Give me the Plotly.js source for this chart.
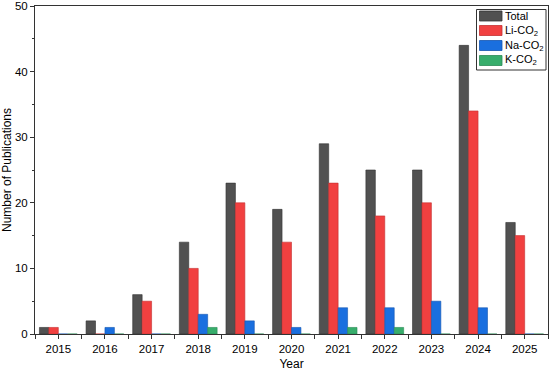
<!DOCTYPE html>
<html><head><meta charset="utf-8">
<script src="https://cdn.plot.ly/plotly-3.0.1.min.js"></script>
<style>html,body{margin:0;padding:0;background:#fff}#chart{width:551px;height:371px}</style>
</head><body><div id="chart"></div>
<script>
const years = [2015,2016,2017,2018,2019,2020,2021,2022,2023,2024,2025];
const total = [1,2,6,14,23,19,29,25,25,44,17];
const liCO2 = [1,0,5,10,20,14,23,18,20,34,15];
const naCO2 = [0,1,0,3,2,1,4,4,5,4,0];
const kCO2  = [0,0,0,1,0,0,1,1,0,0,0];
const seriesNames = ['Total','Li-CO<sub>2</sub>','Na-CO<sub>2</sub>','K-CO<sub>2</sub>'];
const seriesColors = ['#515151','#F14040','#1A6FDF','#37AD6B'];
const seriesLines = ['#333333','#c43030','#1456b0','#2a8a55'];
const seriesData = [total, liCO2, naCO2, kCO2];
const yTicks = [0,10,20,30,40,50];

const traces = seriesData.map((d,i)=>({
  type:'bar', x: years, y: d, name: seriesNames[i],
  marker:{color: seriesColors[i], line:{color: seriesLines[i], width:0.6}},
  hoverinfo:'x+y', showlegend:false
}));

// plot area geometry (pixels)
const W=551, H=371, mL=35, mR=3, mT=6, mB=37;
const pw=W-mL-mR, ph=H-mT-mB;
const px2x = p => (p-mL)/pw;
const py2y = p => (H-mB-p)/ph;

const font = {family:'Liberation Sans, Arial, sans-serif', size:11, color:'#000'};

// custom legend (box, swatches, labels)
const shapes = [{type:'rect', xref:'paper', yref:'paper', x0:px2x(476.5), x1:px2x(546), y0:py2y(70), y1:py2y(9.5),
  line:{color:'#333', width:1}, fillcolor:'#fff', layer:'above'}];
const annotations = [];
const rowCenters = [16, 30.5, 45.5, 60.5];
seriesNames.forEach((n,i)=>{
  const c = rowCenters[i];
  shapes.push({type:'rect', xref:'paper', yref:'paper', x0:px2x(479.5), x1:px2x(502), y0:py2y(c+5), y1:py2y(c-5),
    line:{color: seriesLines[i], width:0.8}, fillcolor: seriesColors[i], layer:'above'});
  annotations.push({xref:'paper', yref:'paper', x:px2x(503.5), y:py2y(c), xanchor:'left', yanchor:'middle',
    text:n, showarrow:false, borderpad:0, font:{family:font.family, size:11, color:'#000'}});
});

const layout = {
  width:W, height:H,
  margin:{l:mL, r:mR, t:mT, b:mB},
  paper_bgcolor:'#fff', plot_bgcolor:'#fff',
  font: font,
  barmode:'group', bargap:0.19, bargroupgap:0,
  showlegend:false,
  shapes: shapes, annotations: annotations,
  xaxis:{
    range:[2014.5, 2025.5], tickmode:'array', tickvals: years, ticktext: years.map(String),
    ticks:'outside', ticklen:4, tickwidth:1, tickcolor:'#333',
    minor:{tickvals: years.slice(0,-1).map(y=>y+0.5).concat([2014.5,2025.5]), ticks:'outside', ticklen:4, tickcolor:'#333'},
    showline:true, linecolor:'#333', linewidth:1, mirror:true, showgrid:false, zeroline:false,
    title:{text:'Year', font:{family:font.family, size:12, color:'#000'}, standoff:6},
    tickfont:{family:font.family, size:11.5, color:'#000'}
  },
  yaxis:{
    range:[0,50], tickmode:'array', tickvals: yTicks, ticktext: yTicks.map(String),
    ticklabeloverflow:'allow',
    ticks:'outside', ticklen:4, tickwidth:1, tickcolor:'#333',
    minor:{dtick:5, ticks:'outside', ticklen:2, tickcolor:'#333'},
    showline:true, linecolor:'#333', linewidth:1, mirror:true, showgrid:false, zeroline:false,
    title:{text:'Number of Publications', font:{family:font.family, size:12, color:'#000'}, standoff:4},
    tickfont:{family:font.family, size:11.5, color:'#000'}
  }
};
Plotly.newPlot('chart', traces, layout, {staticPlot:true, displayModeBar:false});
</script></body></html>
